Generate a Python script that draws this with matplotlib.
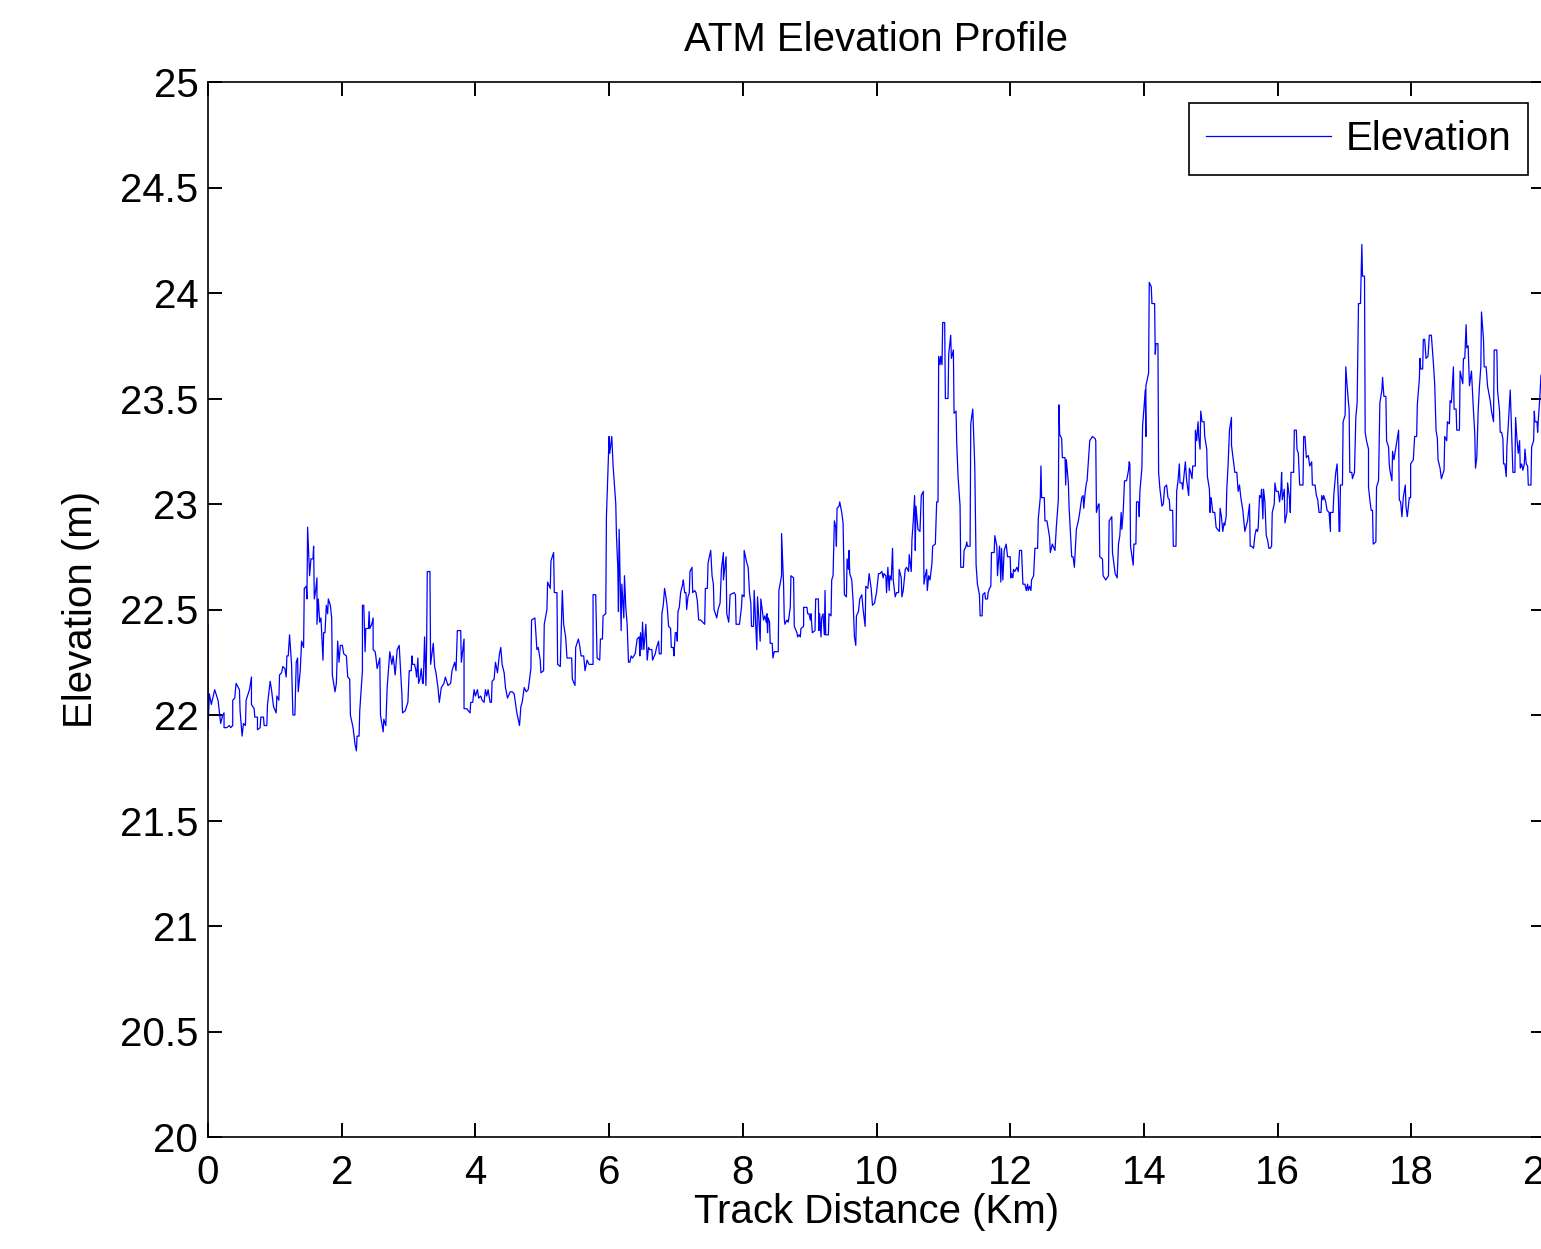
import numpy as np
import matplotlib
matplotlib.use("Agg")
import matplotlib.pyplot as plt

plt.rcParams['font.family'] = ['Liberation Sans', 'DejaVu Sans']

# (distance km, elevation m), in sections
sec_0_3 = [(0.00,22.43),(0.00,21.93),(0.02,22.10),(0.05,22.05),(0.10,22.12),(0.14,22.08),(0.15,22.07),(0.19,21.96),
           (0.22,22.00),(0.24,22.01),(0.24,21.94),(0.28,21.94),(0.32,21.95),(0.34,21.94),(0.37,21.95),(0.37,22.07),
           (0.40,22.08),(0.42,22.15),(0.47,22.12),(0.48,22.02),(0.51,21.90),(0.53,21.96),(0.56,21.95),(0.57,22.07),
           (0.62,22.12),(0.65,22.18),(0.65,22.05),(0.69,22.03),(0.70,21.99),(0.74,21.99),(0.74,21.93),(0.78,21.94),
           (0.79,21.99),(0.83,21.99),(0.84,21.95),(0.88,21.95),(0.89,22.05),(0.93,22.16),(0.95,22.12),(0.98,22.04),
           (1.02,22.01),(1.03,22.09),(1.06,22.07),(1.07,22.19),(1.10,22.20),(1.12,22.23),(1.15,22.22),(1.17,22.18),
           (1.18,22.28),(1.20,22.28),(1.22,22.38),(1.24,22.29),(1.25,22.24),(1.27,22.00),(1.30,22.00),(1.32,22.25),
           (1.34,22.27),(1.35,22.11),(1.38,22.21),(1.40,22.35),(1.43,22.32),(1.44,22.60),(1.47,22.61),(1.48,22.55),
           (1.49,22.89),(1.52,22.66),(1.54,22.74),(1.57,22.74),(1.58,22.80),(1.59,22.55),(1.61,22.59),(1.63,22.65),
           (1.63,22.43),(1.65,22.55),(1.67,22.44),(1.69,22.46),(1.72,22.26),(1.73,22.39),(1.75,22.39),(1.77,22.52),
           (1.79,22.48),(1.80,22.55),(1.83,22.52),(1.85,22.46),(1.86,22.19),(1.90,22.11),(1.92,22.15),(1.94,22.35),
           (1.96,22.25),(1.98,22.33),(2.01,22.33),(2.03,22.29),(2.07,22.28),(2.09,22.18),(2.12,22.17),(2.13,22.00),
           (2.17,21.94),(2.20,21.86),(2.22,21.83),(2.23,21.90),(2.26,21.90),(2.27,22.02),(2.31,22.21),(2.31,22.52),
           (2.33,22.52),(2.35,22.30),(2.36,22.41),(2.40,22.41),(2.41,22.49),(2.42,22.41),(2.45,22.43),(2.47,22.46),
           (2.47,22.31),(2.50,22.30),(2.51,22.28),(2.53,22.22),(2.57,22.27),(2.58,22.00),(2.62,21.92),(2.63,21.98),
           (2.66,21.95),(2.68,22.13),(2.72,22.30),(2.75,22.24),(2.77,22.28),(2.80,22.19),(2.83,22.31),(2.86,22.33)]

sec_3_6 = [(2.90,22.10),(2.91,22.01),(2.95,22.02),(2.99,22.06),(3.01,22.21),(3.04,22.21),(3.05,22.28),(3.06,22.24),
           (3.09,22.24),(3.11,22.21),(3.12,22.18),(3.14,22.27),(3.15,22.15),(3.17,22.17),(3.19,22.22),(3.21,22.15),
           (3.22,22.15),(3.24,22.37),(3.26,22.14),(3.27,22.32),(3.28,22.68),(3.32,22.68),(3.33,22.24),(3.37,22.34),
           (3.39,22.23),(3.41,22.20),(3.44,22.13),(3.46,22.06),(3.49,22.13),(3.53,22.15),(3.55,22.18),(3.59,22.14),
           (3.63,22.15),(3.65,22.21),(3.69,22.25),(3.71,22.21),(3.73,22.40),(3.78,22.40),(3.79,22.25),(3.83,22.36),
           (3.83,22.03),(3.87,22.03),(3.92,22.01),(3.93,22.06),(3.96,22.06),(3.98,22.12),(4.00,22.09),(4.03,22.12),
           (4.05,22.08),(4.08,22.09),(4.10,22.07),(4.13,22.06),(4.15,22.12),(4.17,22.09),(4.19,22.12),(4.22,22.06),
           (4.24,22.06),(4.25,22.16),(4.28,22.17),(4.30,22.25),(4.33,22.20),(4.36,22.29),(4.38,22.32),(4.40,22.24),
           (4.43,22.20),(4.45,22.13),(4.48,22.08),(4.52,22.11),(4.55,22.11),(4.58,22.10),(4.62,22.01),(4.66,21.95),
           (4.68,22.04),(4.70,22.06),(4.73,22.13),(4.76,22.11),(4.79,22.12),(4.83,22.22),(4.84,22.45),(4.89,22.46),
           (4.92,22.31),(4.94,22.32),(4.97,22.26),(4.98,22.20),(5.02,22.21),(5.03,22.43),(5.07,22.50),(5.08,22.63),
           (5.12,22.60),(5.13,22.73),(5.17,22.77),(5.18,22.58),(5.22,22.58),(5.23,22.24),(5.27,22.23),(5.30,22.59),
           (5.32,22.43),(5.35,22.37),(5.37,22.27),(5.44,22.27),(5.45,22.17),(5.49,22.14),(5.50,22.32),(5.54,22.36),
           (5.56,22.33),(5.58,22.28),(5.62,22.28),(5.64,22.21),(5.67,22.26),(5.70,22.24),(5.76,22.24)]

sec_6_9 = [(5.76,22.57),(5.80,22.57),(5.82,22.27),(5.86,22.26),(5.87,22.36),(5.90,22.36),(5.91,22.47),(5.95,22.48),
           (5.96,22.94),(6.00,23.32),(6.01,23.24),(6.04,23.32),(6.06,23.18),(6.10,23.00),(6.11,22.85),(6.13,22.70),
           (6.14,22.49),(6.15,22.88),(6.18,22.40),(6.19,22.62),(6.22,22.46),(6.23,22.66),(6.25,22.51),(6.27,22.43),
           (6.29,22.25),(6.31,22.25),(6.33,22.28),(6.35,22.27),(6.39,22.29),(6.42,22.36),(6.45,22.37),(6.46,22.28),
           (6.47,22.39),(6.49,22.31),(6.50,22.44),(6.52,22.31),(6.55,22.43),(6.57,22.26),(6.59,22.32),(6.61,22.31),
           (6.64,22.31),(6.65,22.26),(6.69,22.29),(6.71,22.32),(6.74,22.35),(6.75,22.29),(6.78,22.29),(6.79,22.48),
           (6.81,22.52),(6.83,22.60),(6.85,22.56),(6.87,22.51),(6.89,22.42),(6.92,22.41),(6.93,22.32),(6.96,22.32),
           (6.97,22.28),(6.99,22.39),(7.01,22.39),(7.02,22.35),(7.03,22.49),(7.05,22.51),(7.07,22.58),(7.10,22.62),
           (7.11,22.64),(7.13,22.58),(7.15,22.58),(7.16,22.50),(7.18,22.56),(7.20,22.58),(7.21,22.68),(7.24,22.70),
           (7.25,22.58),(7.28,22.59),(7.30,22.58),(7.32,22.54),(7.34,22.45),(7.37,22.45),(7.40,22.44),(7.43,22.43),
           (7.44,22.60),(7.47,22.60),(7.48,22.72),(7.52,22.78),(7.54,22.66),(7.56,22.62),(7.57,22.50),(7.61,22.46),
           (7.63,22.50),(7.66,22.53),(7.68,22.69),(7.71,22.77),(7.71,22.64),(7.75,22.75),(7.76,22.48),(7.79,22.44),
           (7.81,22.57),(7.87,22.58),(7.89,22.57),(7.90,22.43),(7.95,22.43),(7.98,22.51),(7.99,22.57),(8.02,22.56),
           (8.02,22.78),(8.06,22.72),(8.08,22.70),(8.10,22.58),(8.12,22.53),(8.13,22.42),(8.16,22.42),(8.17,22.59),
           (8.21,22.31),(8.22,22.56),(8.26,22.35),(8.27,22.55),(8.31,22.45),(8.33,22.47),(8.35,22.44),(8.36,22.48),
           (8.37,22.39),(8.38,22.46),(8.40,22.44),(8.41,22.34),(8.44,22.34),(8.45,22.27),(8.47,22.30),(8.53,22.30),
           (8.54,22.59),(8.58,22.66),(8.58,22.86),(8.61,22.62),(8.62,22.46),(8.63,22.43),(8.66,22.45),(8.68,22.44),
           (8.71,22.51)]

sec_9_11 = [(8.72,22.66),(8.76,22.65),(8.77,22.42),(8.81,22.39),(8.82,22.37),(8.84,22.38),(8.86,22.37),(8.87,22.41),
            (8.91,22.42),(8.91,22.51),(8.96,22.51),(8.97,22.48),(8.99,22.48),(9.01,22.45),(9.02,22.48),(9.04,22.39),
            (9.08,22.40),(9.09,22.55),(9.13,22.55),(9.14,22.40),(9.15,22.48),(9.17,22.37),(9.18,22.46),(9.20,22.48),
            (9.22,22.38),(9.23,22.59),(9.24,22.38),(9.28,22.38),(9.29,22.48),(9.32,22.47),(9.33,22.64),(9.35,22.66),
            (9.37,22.92),(9.39,22.89),(9.40,22.80),(9.41,22.98),(9.44,22.99),(9.45,23.01),(9.48,22.96),(9.50,22.91),
            (9.52,22.57),(9.55,22.56),(9.56,22.74),(9.58,22.69),(9.59,22.78),(9.60,22.67),(9.63,22.64),(9.65,22.54),
            (9.67,22.37),(9.69,22.33),(9.70,22.47),(9.73,22.49),(9.75,22.55),(9.78,22.57),(9.80,22.50),(9.83,22.42),
            (9.84,22.61),(9.87,22.60),(9.89,22.67),(9.92,22.60),(9.94,22.52),(9.97,22.53),(10.00,22.58),(10.03,22.67),
            (10.05,22.67),(10.08,22.68),(10.10,22.65),(10.11,22.67),(10.14,22.66),(10.15,22.58),(10.17,22.70),(10.19,22.59),
            (10.20,22.66),(10.22,22.64),(10.24,22.79),(10.25,22.64),(10.28,22.56),(10.30,22.58),(10.33,22.58),(10.34,22.69),
            (10.37,22.65),(10.38,22.56),(10.40,22.59),(10.43,22.69),(10.45,22.70),(10.48,22.68),(10.49,22.76),(10.52,22.68),
            (10.53,22.83),(10.55,22.92),(10.57,23.04),(10.58,22.78),(10.59,22.99),(10.62,22.88),(10.65,22.87),(10.67,23.04),
            (10.70,23.06),(10.71,22.62),(10.73,22.66),(10.75,22.69),(10.76,22.59),(10.78,22.66),(10.80,22.64),(10.83,22.72),
            (10.84,22.80),(10.88,22.81),(10.90,23.01)]

sec_11_14 = [(10.92,23.01),(10.93,23.70),(10.95,23.66),(10.96,23.70),(10.98,23.66),(10.99,23.86),(11.02,23.86),(11.03,23.50),
             (11.07,23.50),(11.08,23.71),(11.11,23.80),(11.12,23.69),(11.15,23.73),(11.16,23.43),(11.19,23.44),(11.20,23.29),
             (11.22,23.13),(11.25,22.99),(11.26,22.70),(11.30,22.70),(11.31,22.78),(11.34,22.80),(11.35,22.82),(11.36,22.80),
             (11.40,22.80),(11.41,23.38),(11.44,23.45),(11.47,23.18),(11.49,22.71),(11.51,22.62),(11.54,22.57),(11.55,22.47),
             (11.58,22.47),(11.59,22.57),(11.62,22.58),(11.63,22.55),(11.66,22.55),(11.67,22.58),(11.69,22.60),(11.71,22.61),
             (11.72,22.77),(11.76,22.77),(11.77,22.85),(11.80,22.80),(11.81,22.66),(11.84,22.80),(11.86,22.63),(11.87,22.79),
             (11.89,22.64),(11.91,22.78),(11.94,22.81),(11.96,22.75),(12.00,22.75),(12.01,22.65),(12.02,22.67),(12.04,22.65),
             (12.05,22.69),(12.07,22.68),(12.10,22.70),(12.12,22.68),(12.14,22.78),(12.17,22.78),(12.19,22.62),(12.22,22.62),
             (12.24,22.59),(12.26,22.62),(12.27,22.59),(12.29,22.61),(12.31,22.59),(12.32,22.64),(12.35,22.66),(12.37,22.79),
             (12.41,22.79),(12.42,22.93),(12.45,23.03),(12.46,23.18),(12.47,23.03),(12.51,23.03),(12.52,22.92),(12.55,22.92),
             (12.57,22.88),(12.59,22.84),(12.60,22.77),(12.63,22.81),(12.67,22.78),(12.69,22.89),(12.72,23.02),(12.73,23.47),
             (12.74,23.33),(12.77,23.31),(12.78,23.22),(12.82,23.22),(12.83,23.09),(12.84,23.21),(12.87,23.10),(12.88,22.99),
             (12.92,22.75),(12.94,22.75),(12.96,22.70),(12.99,22.88),(13.02,22.92),(13.04,22.96),(13.07,23.03),(13.09,23.04),
             (13.10,22.98),(13.12,23.05),(13.14,23.10),(13.15,23.11),(13.18,23.25),(13.19,23.30),(13.23,23.32),(13.27,23.31),
             (13.28,23.30),(13.29,22.96),(13.32,23.00),(13.33,23.00),(13.34,22.75),(13.38,22.74),(13.39,22.66),(13.43,22.64),
             (13.47,22.66),(13.48,22.92),(13.52,22.94),(13.53,22.77),(13.57,22.67),(13.60,22.65),(13.62,22.81),(13.64,22.85),
             (13.66,22.96),(13.67,22.88),(13.69,22.96),(13.71,23.11),(13.74,23.11),(13.77,23.16)]

sec_14_17 = [(13.78,23.20),(13.79,23.19),(13.80,22.80),(13.84,22.71),(13.85,22.81),(13.88,22.81),(13.89,23.01),(13.92,23.01),
             (13.93,22.94),(13.94,23.06),(13.97,23.17),(13.98,23.37),(14.00,23.45),(14.02,23.54),(14.03,23.32),(14.03,23.56),
             (14.05,23.59),(14.07,23.62),(14.08,24.05),(14.11,24.03),(14.12,23.95),(14.16,23.95),(14.17,23.71),(14.18,23.76),
             (14.21,23.76),(14.22,23.15),(14.24,23.07),(14.27,22.99),(14.29,23.00),(14.31,23.08),(14.34,23.09),(14.36,23.03),
             (14.38,23.02),(14.39,22.97),(14.43,22.97),(14.44,22.80),(14.48,22.80),(14.49,23.06),(14.51,23.11),(14.53,23.19),
             (14.54,23.10),(14.57,23.10),(14.58,23.07),(14.62,23.20),(14.64,23.11),(14.67,23.04),(14.68,23.17),(14.70,23.15),
             (14.72,23.12),(14.73,23.18),(14.77,23.18),(14.77,23.35),(14.79,23.30),(14.81,23.39),(14.82,23.32),(14.84,23.26),
             (14.85,23.44),(14.87,23.39),(14.90,23.39),(14.91,23.32),(14.94,23.26),(14.95,23.13),(14.98,23.07),(14.99,22.96),
             (15.00,23.03),(15.01,23.02),(15.03,22.96),(15.06,22.96),(15.08,22.89),(15.10,22.88),(15.13,22.87),(15.14,22.98),
             (15.16,22.94),(15.18,22.87),(15.20,22.91),(15.21,22.90),(15.23,22.94),(15.24,23.07),(15.26,23.19),(15.28,23.35),
             (15.31,23.41),(15.31,23.28),(15.34,23.20),(15.36,23.15),(15.39,23.15),(15.41,23.06),(15.43,23.09),(15.45,23.03),
             (15.48,22.97),(15.51,22.87),(15.55,22.92),(15.58,23.00),(15.59,22.80),(15.61,22.80),(15.64,22.79),(15.66,22.85),
             (15.68,22.88),(15.70,22.87),(15.71,22.89),(15.73,23.04),(15.75,23.03),(15.76,23.07),(15.78,22.93),(15.79,23.07),
             (15.81,23.01),(15.83,22.85),(15.85,22.83),(15.87,22.79),(15.89,22.79),(15.91,22.80),(15.92,22.96),(15.95,23.00),
             (15.96,23.10),(15.98,23.06),(16.01,23.06),(16.03,23.01),(16.05,23.07),(16.06,23.15),(16.07,23.02),(16.10,23.07),
             (16.11,22.91),(16.14,22.96),(16.15,23.10),(16.18,23.02),(16.19,22.96),(16.20,23.15),(16.24,23.15),(16.25,23.35),
             (16.28,23.35),(16.29,23.26),(16.31,23.24),(16.33,23.09),(16.38,23.09),(16.39,23.32),(16.41,23.32),(16.43,23.22),
             (16.46,23.23),(16.48,23.18),(16.51,23.20),(16.52,23.09),(16.56,23.09),(16.58,23.04),(16.60,23.02),(16.62,22.96),
             (16.65,22.96),(16.66,23.04),(16.68,23.02),(16.69,23.04),(16.72,23.01),(16.74,22.97),(16.77,22.96),(16.79,22.87),
             (16.79,22.96),(16.83,22.96),(16.84,23.04),(16.87,23.15),(16.89,23.19),(16.91,23.02),(16.92,22.87)]

sec_17_20 = [(16.93,22.87),(16.94,23.09),(16.97,23.09),(16.98,23.39),(17.01,23.42),(17.02,23.65),(17.04,23.56),(17.06,23.48),
             (17.07,23.45),(17.08,23.15),(17.11,23.15),(17.12,23.12),(17.15,23.15),(17.17,23.41),(17.19,23.48),(17.21,23.95),
             (17.24,23.95),(17.26,24.23),(17.27,24.08),(17.30,24.08),(17.31,23.34),(17.33,23.30),(17.36,23.26),(17.36,23.08),
             (17.38,23.02),(17.40,22.97),(17.42,22.97),(17.43,22.81),(17.47,22.82),(17.48,23.08),(17.51,23.11),(17.53,23.48),
             (17.56,23.54),(17.57,23.60),(17.59,23.51),(17.62,23.51),(17.63,23.30),(17.66,23.27),(17.67,23.19),(17.68,23.16),
             (17.71,23.11),(17.72,23.25),(17.74,23.21),(17.78,23.29),(17.81,23.35),(17.82,23.02),(17.84,23.01),(17.86,22.94),
             (17.88,23.03),(17.91,23.09),(17.92,22.99),(17.94,22.94),(17.97,23.03),(17.99,23.03),(17.99,23.19),(18.03,23.21),
             (18.05,23.32),(18.08,23.32),(18.09,23.47),(18.12,23.59),(18.13,23.69),(18.14,23.64),(18.17,23.64),(18.18,23.78),
             (18.20,23.78),(18.22,23.69),(18.25,23.70),(18.27,23.80),(18.30,23.80),(18.33,23.67),(18.35,23.57),(18.37,23.35),
             (18.39,23.31),(18.40,23.21),(18.43,23.17),(18.45,23.12),(18.49,23.16),(18.50,23.32),(18.53,23.30),(18.54,23.39),
             (18.57,23.38),(18.58,23.49),(18.60,23.48),(18.63,23.65),(18.64,23.45),(18.67,23.45),(18.68,23.35),(18.72,23.35),
             (18.73,23.63),(18.75,23.60),(18.77,23.57),(18.78,23.69),(18.80,23.69),(18.82,23.85),(18.83,23.74),(18.85,23.75),
             (18.87,23.56),(18.90,23.63),(18.93,23.44),(18.95,23.33),(18.96,23.17),(18.98,23.22),(19.00,23.44),(19.02,23.56),
             (19.04,23.65),(19.05,23.91),(19.08,23.78),(19.09,23.65),(19.12,23.65),(19.14,23.56),(19.18,23.49),(19.20,23.44),
             (19.23,23.39),(19.24,23.73),(19.28,23.73),(19.29,23.54),(19.32,23.44),(19.33,23.34),(19.35,23.34),(19.37,23.31),
             (19.38,23.19),(19.40,23.19),(19.42,23.13),(19.43,23.27),(19.45,23.37),(19.48,23.54),(19.49,23.44),(19.52,23.15),
             (19.55,23.15),(19.56,23.41),(19.58,23.31),(19.60,23.24),(19.62,23.30),(19.63,23.17),(19.65,23.19),(19.67,23.16),
             (19.69,23.19),(19.70,23.26),(19.72,23.19),(19.74,23.18),(19.75,23.09),(19.79,23.09),(19.80,23.27),(19.83,23.30),
             (19.84,23.44),(19.85,23.39),(19.88,23.39),(19.89,23.34),(19.90,23.40),(19.92,23.49),(19.94,23.61)]

sections = [sec_0_3, sec_3_6, sec_6_9, sec_9_11, sec_11_14, sec_14_17, sec_17_20]
profile = np.array([p for sec in sections for p in sec])
dist = profile[:, 0]
elev = profile[:, 1]

x_ticks = np.arange(0, 21, 2)
y_ticks = np.arange(20, 25.01, 0.5)
y_labels = ['20', '20.5', '21', '21.5', '22', '22.5', '23', '23.5', '24', '24.5', '25']

W, H = 1541, 1249
fig = plt.figure(figsize=(W / 100, H / 100), dpi=100)
# axes run a little past the right edge of the figure, as in the original
ax = fig.add_axes([208 / W, (H - 1137) / H, 1337 / W, 1055 / H])

ax.plot(dist, elev, color='#0000ff', lw=0.9, label='Elevation')

ax.set_xlim(0, 20)
ax.set_ylim(20, 25)
ax.set_xticks(x_ticks)
ax.set_yticks(y_ticks)
ax.set_yticklabels(y_labels)

fs = 29
ax.tick_params(direction='in', length=10, width=1.4, labelsize=fs,
               top=True, right=True, color='black')
ax.tick_params(axis='x', pad=12)
ax.tick_params(axis='y', pad=7)
for s in ax.spines.values():
    s.set_linewidth(1.2)

ax.set_title('ATM Elevation Profile', fontsize=fs, pad=22)
ax.set_xlabel('Track Distance (Km)', fontsize=fs, labelpad=1)
ax.set_ylabel('Elevation (m)', fontsize=fs, labelpad=14)

leg = ax.legend(loc='upper right', bbox_to_anchor=(1528 / W, 1 - 103 / H),
                bbox_transform=fig.transFigure, borderaxespad=0,
                fontsize=fs, fancybox=False, framealpha=1, edgecolor='black',
                handlelength=3.1, handletextpad=0.35, borderpad=0.42)
leg.get_frame().set_linewidth(1.2)

fig.savefig('out.png', dpi=100)
